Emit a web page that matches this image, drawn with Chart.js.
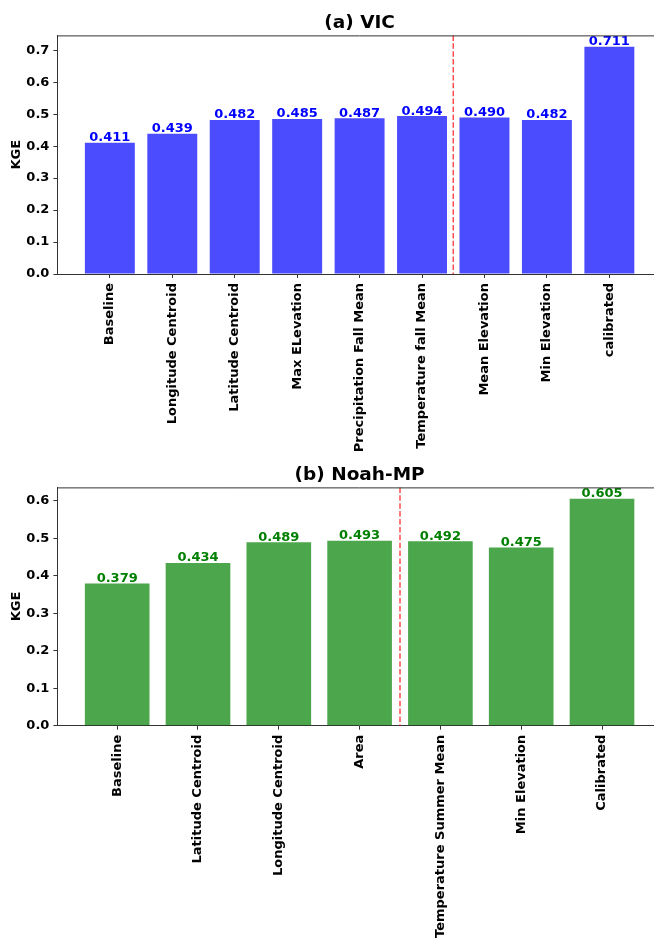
<!DOCTYPE html>
<html>
<head>
<meta charset="utf-8">
<script src="https://cdn.jsdelivr.net/npm/chart.js@4.4.1/dist/chart.umd.min.js"></script>
<style>
  html, body { margin: 0; padding: 0; background: #fff; overflow: hidden; width: 654px; height: 940px; }
  canvas { position: absolute; left: 0; }
  #vic { top: 0; }
  #noah { top: 452px; }
</style>
</head>
<body>
<canvas id="vic" width="680" height="460"></canvas>
<canvas id="noah" width="680" height="488"></canvas>
<script>
// (a) VIC: KGE after adding each attribute
const vicCategories = ['Baseline', 'Longitude Centroid', 'Latitude Centroid', 'Max ELevation',
  'Precipitation Fall Mean', 'Temperature fall Mean', 'Mean Elevation', 'Min Elevation', 'calibrated'];
const vicKGE = [0.411, 0.439, 0.482, 0.485, 0.487, 0.494, 0.490, 0.482, 0.711];
const vicYTicks = [0.0, 0.1, 0.2, 0.3, 0.4, 0.5, 0.6, 0.7];
const vicDivider = 5.5;

// (b) Noah-MP
const noahCategories = ['Baseline', 'Latitude Centroid', 'Longitude Centroid', 'Area',
  'Temperature Summer Mean', 'Min Elevation', 'Calibrated'];
const noahKGE = [0.379, 0.434, 0.489, 0.493, 0.492, 0.475, 0.605];
const noahYTicks = [0.0, 0.1, 0.2, 0.3, 0.4, 0.5, 0.6];
const noahDivider = 3.5;

const FONT = 'DejaVu Sans';
const FONT_SIZE = 13;
const AXIS_COLOR = '#333';

// value text above every bar
const valueLabels = {
  id: 'valueLabels',
  afterDatasetsDraw(chart, args, opts) {
    const ctx = chart.ctx;
    const ds = chart.data.datasets[0];
    const meta = chart.getDatasetMeta(0);
    ctx.save();
    ctx.font = 'bold ' + FONT_SIZE + 'px "' + FONT + '"';
    ctx.fillStyle = opts.color;
    ctx.textAlign = 'center';
    ctx.textBaseline = 'alphabetic';
    meta.data.forEach((bar, i) => {
      ctx.fillText(ds.data[i].y.toFixed(3), bar.x, bar.y - 1.5);
    });
    ctx.restore();
  }
};

// dashed separator between attribute groups
const divider = {
  id: 'divider',
  afterDatasetsDraw(chart, args, opts) {
    const { ctx, chartArea, scales } = chart;
    const x = scales.x.getPixelForValue(opts.value);
    ctx.save();
    ctx.strokeStyle = 'rgba(255,0,0,0.7)';
    ctx.lineWidth = 1.5;
    ctx.setLineDash([5.5, 2.4]);
    ctx.beginPath();
    ctx.moveTo(x, chartArea.top);
    ctx.lineTo(x, chartArea.bottom);
    ctx.stroke();
    ctx.restore();
  }
};

// top and right spines
const frame = {
  id: 'frame',
  afterDraw(chart) {
    const { ctx, chartArea } = chart;
    ctx.save();
    ctx.strokeStyle = AXIS_COLOR;
    ctx.lineWidth = 1;
    ctx.beginPath();
    ctx.moveTo(chartArea.left, chartArea.top + 0.5);
    ctx.lineTo(chartArea.right, chartArea.top + 0.5);
    ctx.lineTo(chartArea.right, chartArea.bottom);
    ctx.stroke();
    ctx.restore();
  }
};

function makeChart(id, title, cats, values, yTicks, split, barColor, textColor, xAxisHeight) {
  const n = cats.length;
  const pad = 0.05 * (n - 1 + 0.8);
  const yMax = Math.max(...values) * 1.05;
  return new Chart(document.getElementById(id), {
    type: 'bar',
    data: {
      datasets: [{
        data: values.map((v, i) => ({ x: i, y: v })),
        backgroundColor: barColor,
        borderWidth: 0,
        categoryPercentage: 1.0,
        barPercentage: 0.8
      }]
    },
    options: {
      responsive: false,
      devicePixelRatio: 1,
      animation: false,
      layout: { padding: { left: 0, right: 18.2, top: 0, bottom: 0 } },
      plugins: {
        legend: { display: false },
        tooltip: { enabled: false },
        title: {
          display: true,
          fullSize: false,
          text: title,
          color: '#000',
          font: { family: FONT, size: 18.5, weight: 'bold', lineHeight: 1.2 },
          padding: { top: 12, bottom: 1.2 }
        },
        valueLabels: { color: textColor },
        divider: { value: split }
      },
      scales: {
        x: {
          type: 'linear',
          offset: false,
          min: -0.4 - pad,
          max: n - 1 + 0.4 + pad,
          afterBuildTicks: s => { s.ticks = cats.map((c, i) => ({ value: i })); },
          afterFit: s => { s.height = xAxisHeight; },
          ticks: {
            autoSkip: false,
            minRotation: 90,
            maxRotation: 90,
            padding: 5,
            color: '#000',
            font: { family: FONT, size: FONT_SIZE, weight: 'bold' },
            callback: v => cats[v]
          },
          grid: { display: true, offset: false, drawOnChartArea: false, drawTicks: true, tickLength: 4, color: AXIS_COLOR },
          border: { display: true, color: AXIS_COLOR, width: 1 }
        },
        y: {
          type: 'linear',
          min: 0,
          max: yMax,
          afterBuildTicks: s => { s.ticks = yTicks.map(v => ({ value: v })); },
          afterFit: s => { s.width = 57.4; },
          ticks: {
            padding: 4,
            color: '#000',
            font: { family: FONT, size: FONT_SIZE, weight: 'bold' },
            callback: v => Number(v).toFixed(1)
          },
          grid: { display: true, drawOnChartArea: false, drawTicks: true, tickLength: 4, color: AXIS_COLOR },
          border: { display: true, color: AXIS_COLOR, width: 1 },
          title: {
            display: true,
            text: 'KGE',
            color: '#000',
            font: { family: FONT, size: FONT_SIZE, weight: 'bold', lineHeight: 1.2 },
            padding: { top: 8.5, bottom: 0 }
          }
        }
      }
    },
    plugins: [valueLabels, divider, frame]
  });
}

makeChart('vic', '(a) VIC', vicCategories, vicKGE, vicYTicks, vicDivider,
  'rgba(0,0,255,0.7)', '#0000ff', 186);
makeChart('noah', '(b) Noah-MP', noahCategories, noahKGE, noahYTicks, noahDivider,
  'rgba(0,128,0,0.7)', '#008000', 214.3);
</script>
</body>
</html>
